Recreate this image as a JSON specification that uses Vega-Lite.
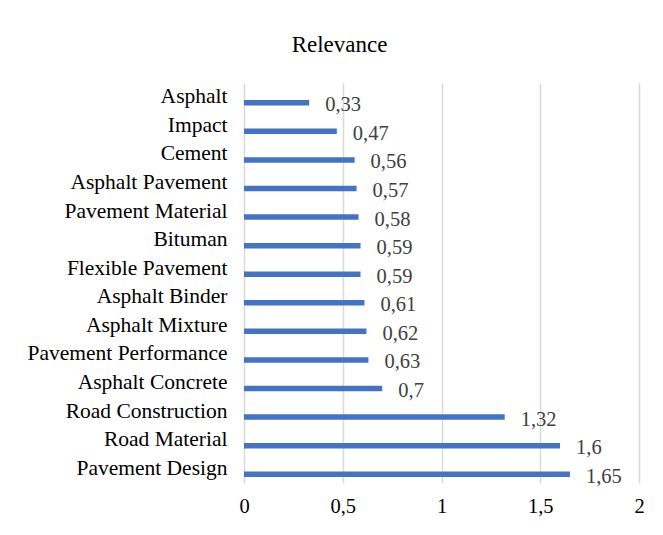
{
  "$schema": "https://vega.github.io/schema/vega-lite/v6.json",
  "width": 395,
  "height": 400,
  "autosize": {"type": "none"},
  "padding": {"left": 244, "top": 83, "right": 24, "bottom": 52},
  "background": "white",
  "title": {
    "text": "Relevance",
    "font": "Liberation Serif",
    "fontSize": 23,
    "fontWeight": "normal",
    "color": "#000000",
    "anchor": "middle",
    "frame": "bounds",
    "dx": 4,
    "offset": 26
  },
  "data": {
    "values": [
      {"term": "Asphalt", "relevance": 0.33},
      {"term": "Impact", "relevance": 0.47},
      {"term": "Cement", "relevance": 0.56},
      {"term": "Asphalt Pavement", "relevance": 0.57},
      {"term": "Pavement Material", "relevance": 0.58},
      {"term": "Bituman", "relevance": 0.59},
      {"term": "Flexible Pavement", "relevance": 0.59},
      {"term": "Asphalt Binder", "relevance": 0.61},
      {"term": "Asphalt Mixture", "relevance": 0.62},
      {"term": "Pavement Performance", "relevance": 0.63},
      {"term": "Asphalt Concrete", "relevance": 0.7},
      {"term": "Road Construction", "relevance": 1.32},
      {"term": "Road Material", "relevance": 1.6},
      {"term": "Pavement Design", "relevance": 1.65}
    ]
  },
  "encoding": {
    "y": {
      "field": "term",
      "type": "nominal",
      "sort": null,
      "scale": {"paddingInner": 0, "paddingOuter": 0},
      "axis": {
        "title": null,
        "ticks": false,
        "domain": false,
        "grid": false,
        "labelFont": "Liberation Serif",
        "labelFontSize": 21.5,
        "labelColor": "#000000",
        "labelPadding": 17,
        "labelBaseline": "middle",
        "labelLimit": 400
      }
    },
    "x": {
      "field": "relevance",
      "type": "quantitative",
      "scale": {"domain": [0, 2], "nice": false},
      "axis": {
        "title": null,
        "values": [0, 0.5, 1, 1.5, 2],
        "format": "~g",
        "ticks": false,
        "domain": false,
        "grid": true,
        "gridColor": "#d9d9d9",
        "gridWidth": 1.5,
        "labelFont": "Liberation Serif",
        "labelFontSize": 20.5,
        "labelColor": "#000000",
        "labelPadding": 13,
        "labelBaseline": "top",
        "labelFlush": false
      }
    }
  },
  "layer": [
    {
      "mark": {"type": "bar", "color": "#4472C4", "size": 5.5, "yOffset": 5.5}
    },
    {
      "mark": {
        "type": "text",
        "align": "left",
        "baseline": "middle",
        "dx": 16,
        "dy": 8,
        "font": "Liberation Serif",
        "fontSize": 20.5,
        "color": "#404040"
      },
      "encoding": {
        "text": {"field": "relevance", "type": "quantitative", "format": "~g"}
      }
    }
  ],
  "config": {
    "view": {"stroke": null},
    "locale": {
      "number": {
        "decimal": ",",
        "thousands": ".",
        "grouping": [3],
        "currency": ["", " €"]
      }
    }
  }
}
